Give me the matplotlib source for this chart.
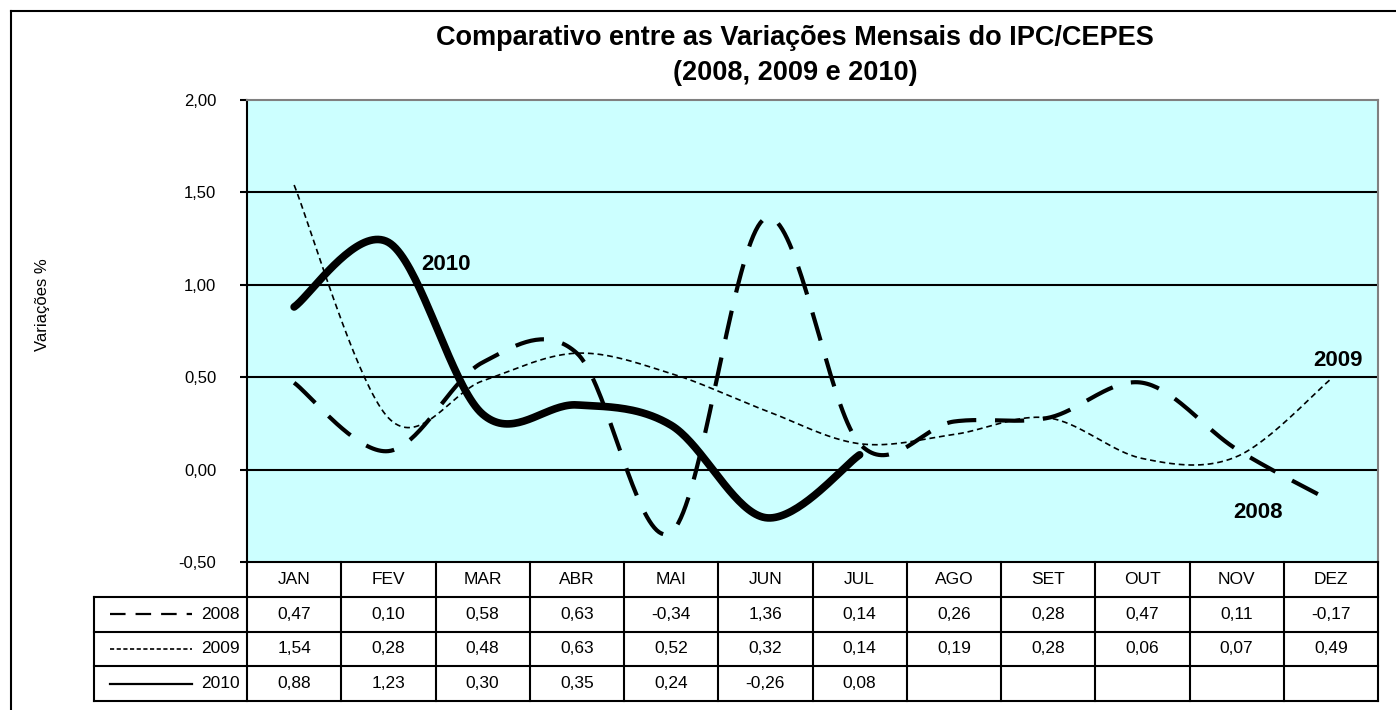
import numpy as np
import matplotlib
matplotlib.use("Agg")
import matplotlib.pyplot as plt
from matplotlib.lines import Line2D

plt.rcParams['font.family'] = ['Liberation Sans', 'DejaVu Sans']

months = ["JAN", "FEV", "MAR", "ABR", "MAI", "JUN", "JUL", "AGO", "SET", "OUT", "NOV", "DEZ"]
v2008 = [0.47, 0.10, 0.58, 0.63, -0.34, 1.36, 0.14, 0.26, 0.28, 0.47, 0.11, -0.17]
v2009 = [1.54, 0.28, 0.48, 0.63, 0.52, 0.32, 0.14, 0.19, 0.28, 0.06, 0.07, 0.49]
v2010 = [0.88, 1.23, 0.30, 0.35, 0.24, -0.26, 0.08]
years = ["2008", "2009", "2010"]
yticks = [-0.5, 0.0, 0.5, 1.0, 1.5, 2.0]


def smooth(xs, ys, n=40):
    # Excel-like smoothing: Catmull-Rom through the points as cubic Bezier
    pts = np.column_stack([xs, ys]).astype(float)
    k = len(pts)
    t = np.linspace(0, 1, n)[:, None]
    out = []
    for i in range(k - 1):
        p0 = pts[max(i - 1, 0)]
        p1 = pts[i]
        p2 = pts[i + 1]
        p3 = pts[min(i + 2, k - 1)]
        c1 = p1 + (p2 - p0) / 6
        c2 = p2 - (p3 - p1) / 6
        seg = ((1 - t) ** 3) * p1 + 3 * ((1 - t) ** 2) * t * c1 + 3 * (1 - t) * t ** 2 * c2 + t ** 3 * p2
        out.append(seg if i == 0 else seg[1:])
    out = np.vstack(out)
    return out[:, 0], out[:, 1]


def fmt(v):
    return f"{v:.2f}".replace(".", ",")


W, H = 1396, 710
fig = plt.figure(figsize=(W / 100, H / 100), dpi=100)

# outer chart frame (top and left edges visible)
fig.add_artist(Line2D([11 / W, 11 / W], [0, 1 - 11 / H], color="black", lw=1.5))
fig.add_artist(Line2D([11 / W, 1], [1 - 11 / H, 1 - 11 / H], color="black", lw=1.5))

left, right, top, bottom = 247, 1378, 100, 562
ax = fig.add_axes([left / W, 1 - bottom / H, (right - left) / W, (bottom - top) / H])
ax.set_facecolor("#CCFFFF")
ax.set_xlim(0, 12)
ax.set_ylim(-0.5, 2.0)
ax.set_yticks(yticks)
ax.set_yticklabels([fmt(v) for v in yticks], fontsize=12)
ax.tick_params(axis="y", length=5, width=1.5, pad=17)
ax.set_xticks([])
for s in ["top", "right"]:
    ax.spines[s].set_color("#808080")
    ax.spines[s].set_linewidth(1.5)
for s in ["left", "bottom"]:
    ax.spines[s].set_color("black")
    ax.spines[s].set_linewidth(1.5)
for g in [0.0, 0.5, 1.0, 1.5]:
    ax.axhline(g, color="black", lw=1.5, zorder=1)

xs = np.arange(12) + 0.5
sx, sy = smooth(xs, v2008)
ax.plot(sx, sy, color="black", lw=3, dashes=(7, 4.5), zorder=3)
sx, sy = smooth(xs, v2009)
ax.plot(sx, sy, color="black", lw=1.2, dashes=(3.5, 2.3), zorder=3)
sx, sy = smooth(xs[:len(v2010)], v2010)
ax.plot(sx, sy, color="black", lw=5.5, solid_capstyle="round", zorder=4)

ax.text(2.11, 1.11, "2010", fontsize=16, fontweight="bold", ha="center", va="center")
ax.text(11.58, 0.59, "2009", fontsize=16, fontweight="bold", ha="center", va="center")
ax.text(10.73, -0.23, "2008", fontsize=16, fontweight="bold", ha="center", va="center")

fig.text(795 / W, 1 - 45 / H, "Comparativo entre as Variações Mensais do IPC/CEPES",
         fontsize=19.5, fontweight="bold", ha="center", va="baseline")
fig.text(795 / W, 1 - 80 / H, "(2008, 2009 e 2010)",
         fontsize=19.5, fontweight="bold", ha="center", va="baseline")
fig.text(42 / W, 1 - 305 / H, "Variações %", fontsize=12, rotation=90, ha="center", va="center")

# data table below the plot
tleft, tbottom = 94, 701
lw_cell = (right - left) / 12
x0 = -(left - tleft) / lw_cell
tax = fig.add_axes([tleft / W, 1 - tbottom / H, (right - tleft) / W, (tbottom - bottom) / H])
tax.set_xlim(x0, 12)
tax.set_ylim(4, 0)
tax.axis("off")
for r in [1, 2, 3, 4]:
    tax.plot([x0, 12], [r, r], color="black", lw=1.5, clip_on=False)
for c in range(13):
    tax.plot([c, c], [0, 4], color="black", lw=1.5, clip_on=False)
tax.plot([x0, x0], [1, 4], color="black", lw=1.5, clip_on=False)

for i, m in enumerate(months):
    tax.text(i + 0.5, 0.5, m, fontsize=12.5, ha="center", va="center")
rows = [v2008, v2009, v2010]
for r, vals in enumerate(rows):
    for i, v in enumerate(vals):
        tax.text(i + 0.5, r + 1.5, fmt(v), fontsize=12.5, ha="center", va="center")

kx0 = (110 - left) / lw_cell
kx1 = (192 - left) / lw_cell
key_styles = [dict(lw=1.6, dashes=(7, 4.5)), dict(lw=1.2, dashes=(2.5, 1.5)), dict(lw=1.6)]
for r, (yr, st) in enumerate(zip(years, key_styles)):
    tax.plot([kx0, kx1], [r + 1.5, r + 1.5], color="black", clip_on=False, **st)
    tax.text((240 - left) / lw_cell, r + 1.5, yr, fontsize=12.5, ha="right", va="center")

fig.savefig("out.png", dpi=100)
